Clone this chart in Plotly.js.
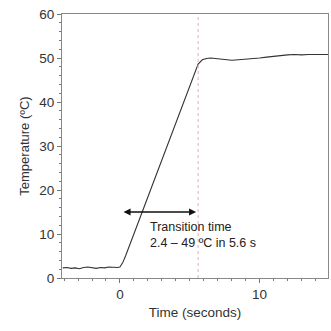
<!DOCTYPE html>
<html><head><meta charset="utf-8">
<script src="https://cdn.plot.ly/plotly-3.0.1.min.js"></script>
<style>html,body{margin:0;padding:0;background:#fff}#c{width:331px;height:331px}</style>
</head><body><div id="c"></div>
<script>
const timeS = [-4.1,-3.8,-3.5,-3.2,-2.9,-2.6,-2.3,-2.0,-1.7,-1.4,-1.1,-0.8,-0.5,-0.2,0,0.2,0.4,0.6,1.0,1.5,2.0,2.5,3.0,3.5,4.0,4.5,5.0,5.3,5.6,5.9,6.2,6.5,7.0,7.5,8.0,8.5,9.0,9.5,10,10.5,11,11.5,12,12.5,13,13.5,14,14.5,14.9];
const tempC = [2.3,2.4,2.2,2.3,2.1,2.4,2.5,2.3,2.2,2.4,2.3,2.5,2.4,2.4,2.5,3.5,5.0,6.6,10.0,14.2,18.4,22.6,26.8,31.0,35.2,39.4,43.6,46.2,48.6,49.6,49.9,50.0,49.8,49.6,49.5,49.6,49.7,49.9,50.0,50.2,50.4,50.6,50.7,50.8,50.7,50.8,50.8,50.7,50.8];
const transitionStart = 0, transitionEnd = 5.6, arrowTemp = 15;
const xTicks = [0, 10], yTicks = [0,10,20,30,40,50,60];
const labelLines = ["Transition time", "2.4 – 49 ºC in 5.6 s"];

const family = "Liberation Sans, Arial, sans-serif";
const tickFont = {family: family, size: 13.5, color: "#333"};
const titleFont = {family: family, size: 13.5, color: "#333"};
Plotly.newPlot("c", [{
  x: timeS, y: tempC, mode: "lines", line: {color: "#333", width: 1.1}, hoverinfo: "skip"
}], {
  width: 331, height: 331, showlegend: false,
  margin: {l: 62, r: 3, t: 14, b: 53},
  paper_bgcolor: "#fff", plot_bgcolor: "#fff", font: tickFont,
  xaxis: {range: [-4.15, 14.9], tickvals: xTicks, ticks: "outside", ticklen: 4, tickcolor: "#777",
    showgrid: false, zeroline: false, showline: true, linecolor: "#888", linewidth: 1, mirror: true,
    minor: {dtick: 1, ticks: "outside", ticklen: 2, tickcolor: "#777"},
    title: {text: "Time (seconds)", font: titleFont, standoff: 6}, tickfont: tickFont},
  yaxis: {range: [0, 60], tickvals: yTicks, ticks: "outside", ticklen: 4, tickcolor: "#777",
    showgrid: false, zeroline: false, showline: true, linecolor: "#888", linewidth: 1, mirror: true,
    minor: {dtick: 2, ticks: "outside", ticklen: 2, tickcolor: "#777"},
    title: {text: "Temperature (ºC)", font: {family: family, size: 13, color: "#333"}, standoff: 6}, tickfont: tickFont},
  shapes: [{type: "line", xref: "x", yref: "y", x0: transitionEnd, x1: transitionEnd, y0: 0, y1: 60,
    line: {color: "#f4a8a8", width: 1, dash: "dot"}}],
  annotations: [
    {xref: "x", yref: "y", axref: "x", ayref: "y", x: transitionEnd - 0.15, y: arrowTemp,
     ax: transitionStart + 0.15, ay: arrowTemp, text: "", showarrow: true, arrowside: "end+start",
     arrowhead: 2, arrowsize: 1, arrowwidth: 1.4, arrowcolor: "#111"},
    {xref: "x", yref: "y", x: 2.0, y: 9.8, xanchor: "left", yanchor: "middle", align: "left",
     text: labelLines.join("<br>"), showarrow: false, font: {family: family, size: 12.5, color: "#222"}}
  ]
}, {staticPlot: true});
</script></body></html>
